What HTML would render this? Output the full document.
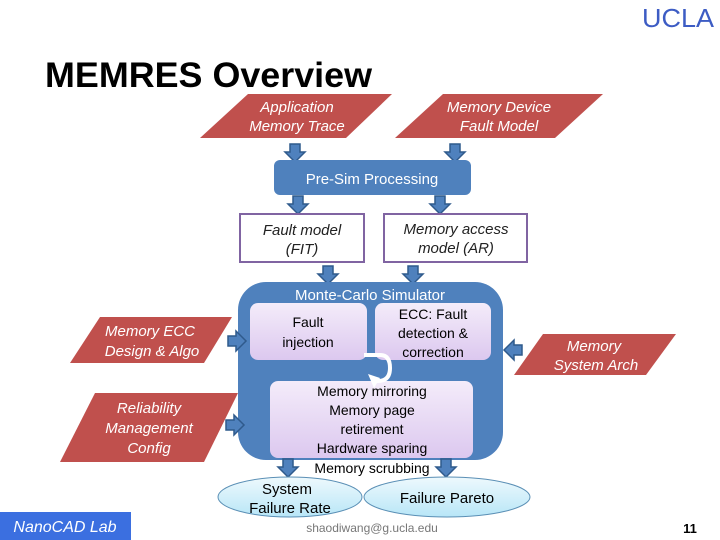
<!DOCTYPE html>
<html><head><meta charset="utf-8"><style>
body{margin:0;background:#fff}
svg{display:block;font-family:"Liberation Sans",sans-serif}
</style></head><body>
<svg width="720" height="540" viewBox="0 0 720 540" xmlns="http://www.w3.org/2000/svg">
<defs>
<g id="ad"><path d="M-5,0 H5 V8 H10 L0,18 L-10,8 H-5 Z" fill="#4f81bd" stroke="#2f5a8c" stroke-width="1.5"/></g>
<g id="ar"><path d="M0,-5 V5 H-8 V10 L-18,0 L-8,-10 V-5 Z" transform="scale(-1,1)" fill="#4f81bd" stroke="#2f5a8c" stroke-width="1.5"/></g>
<linearGradient id="pk" x1="0" y1="0" x2="0" y2="1"><stop offset="0" stop-color="#f4ecfa"/><stop offset="1" stop-color="#dcc8ef"/></linearGradient>
<linearGradient id="cy" x1="0" y1="0" x2="0" y2="1"><stop offset="0" stop-color="#eef9fd"/><stop offset="1" stop-color="#b8e6f7"/></linearGradient>
</defs>
<text x="642" y="27" font-size="26" fill="#3d5cc4" textLength="72" lengthAdjust="spacingAndGlyphs">UCLA</text>
<text x="45" y="87" font-size="35" font-weight="bold" fill="#000" textLength="327" lengthAdjust="spacingAndGlyphs">MEMRES Overview</text>

<g fill="#c0504d">
<polygon points="200,138 248,94 392,94 346,138"/>
<polygon points="395,138 443,94 603,94 555,138"/>
<polygon points="70,363 100,317 232,317 204,363"/>
<polygon points="60,462 95,393 238,393 204,462"/>
<polygon points="514,375 543,334 676,334 646,375"/>
</g>
<g fill="#fff" font-style="italic" font-size="15" text-anchor="middle">
<text x="297" y="112">Application</text><text x="297" y="131">Memory Trace</text>
<text x="499" y="112">Memory Device</text><text x="499" y="131">Fault Model</text>
<text x="150" y="336">Memory ECC</text><text x="152" y="356">Design &amp; Algo</text>
<text x="149" y="413">Reliability</text><text x="149" y="433">Management</text><text x="149" y="453">Config</text>
<text x="594" y="351">Memory</text><text x="596" y="370">System Arch</text>
</g>

<use href="#ad" x="295" y="144"/><use href="#ad" x="455" y="144"/>
<rect x="274" y="160" width="197" height="35" rx="6" fill="#4f81bd"/>
<text x="372" y="184" fill="#fff" font-size="15" text-anchor="middle">Pre-Sim Processing</text>
<use href="#ad" x="298" y="196"/><use href="#ad" x="440" y="196"/>

<rect x="240" y="214" width="124" height="48" fill="#fff" stroke="#8064a2" stroke-width="2"/>
<rect x="384" y="214" width="143" height="48" fill="#fff" stroke="#8064a2" stroke-width="2"/>
<g font-style="italic" font-size="15" fill="#222" text-anchor="middle">
<text x="302" y="235">Fault model</text><text x="302" y="254">(FIT)</text>
<text x="456" y="234">Memory access</text><text x="456" y="253">model (AR)</text>
</g>
<use href="#ad" x="328" y="266"/><use href="#ad" x="413" y="266"/>

<rect x="238" y="282" width="265" height="178" rx="28" fill="#4f81bd"/>
<text x="370" y="300" fill="#fff" font-size="15" text-anchor="middle">Monte-Carlo Simulator</text>
<rect x="250" y="303" width="117" height="57" rx="8" fill="url(#pk)"/>
<rect x="375" y="303" width="116" height="57" rx="8" fill="url(#pk)"/>
<rect x="270" y="381" width="203" height="77" rx="8" fill="url(#pk)"/>
<g font-size="14" fill="#000" text-anchor="middle">
<text x="308" y="327">Fault</text><text x="308" y="347">injection</text>
<text x="433" y="319">ECC: Fault</text><text x="433" y="338">detection &amp;</text><text x="433" y="357">correction</text>
<text x="372" y="396">Memory mirroring</text><text x="372" y="415">Memory page</text><text x="372" y="434">retirement</text><text x="372" y="453">Hardware sparing</text>
</g>
<path d="M364,355 H380 Q390,355 390,368 Q390,381 378,381 H372" fill="none" stroke="#fff" stroke-width="4"/>
<path d="M368,374 L374,388 L380,378 Z" fill="#fff"/>

<use href="#ar" x="228" y="341"/><use href="#ar" x="226" y="425"/>
<use href="#ar" x="522" y="350" transform="translate(1044,0) scale(-1,1)"/>

<use href="#ad" x="288" y="459"/><use href="#ad" x="446" y="459"/>
<text x="372" y="473" font-size="14" text-anchor="middle">Memory  scrubbing</text>

<ellipse cx="290" cy="497" rx="72" ry="20" fill="url(#cy)" stroke="#5a8fb5"/>
<ellipse cx="447" cy="497" rx="83" ry="20" fill="url(#cy)" stroke="#5a8fb5"/>
<g font-size="15" fill="#000" text-anchor="middle">
<text x="287" y="494">System</text><text x="290" y="513">Failure Rate</text>
<text x="447" y="503">Failure Pareto</text>
</g>

<rect x="0" y="512" width="131" height="28" fill="#3b6fe0"/>
<text x="65" y="532" fill="#fff" font-size="16" font-style="italic" text-anchor="middle">NanoCAD Lab</text>
<text x="372" y="532" fill="#777" font-size="12" text-anchor="middle">shaodiwang@g.ucla.edu</text>
<text x="690" y="533" font-size="13" font-weight="bold" text-anchor="middle">11</text>
</svg>
</body></html>
